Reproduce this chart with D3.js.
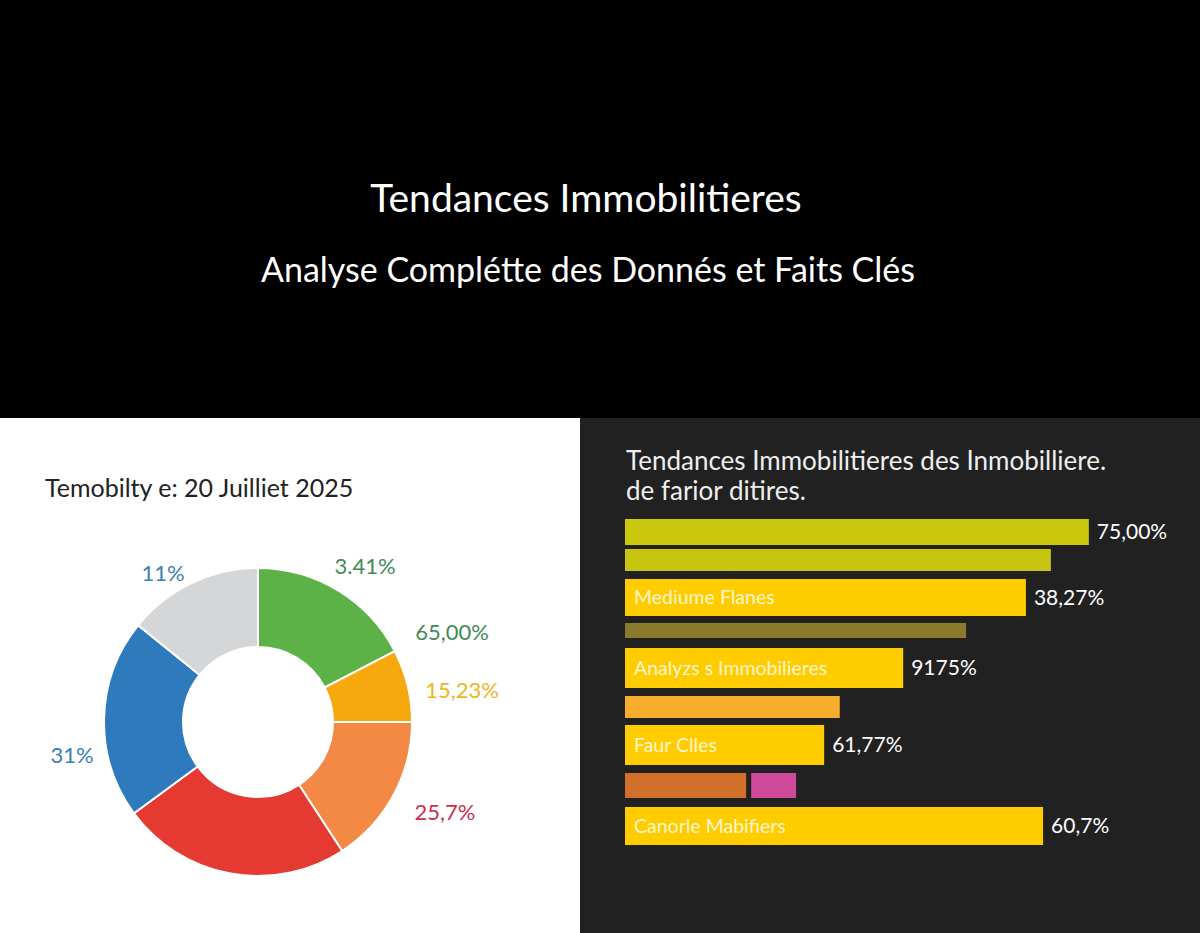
<!DOCTYPE html>
<html lang="fr">

<head>
    <meta charset="UTF-8">
    <title>Tendances Immobilitieres</title>
    <script src="https://d3js.org/d3.v7.min.js"></script>
    <style>
        body {
            margin: 0;
            padding: 0;
            background: #000;
        }

        svg {
            display: block;
            font-family: Lato, "Open Sans", sans-serif;
        }
    </style>
</head>

<body>
    <svg id="chart" width="1200" height="933"></svg>

    <script>
        // --- donut data (left panel)
        const donutCategories = ["Vert", "Jaune", "Orange", "Rouge", "Bleu", "Gris"];
        const donutValues = [17.4, 7.6, 15.8, 24.1, 20.9, 14.2];
        const donutColors = ["#5cb147", "#f6a80f", "#f38945", "#e53a31", "#2f7abd", "#d5d6d8"];

        const donutLabels = ["3.41%", "65,00%", "15,23%", "25,7%", "31%", "11%"];
        const donutLabelColors = ["#3f8a55", "#3f8a55", "#efb51c", "#c8304c", "#3a80b3", "#3a80b3"];

        // --- bar data (right panel)
        const barInner = ["", "", "Mediume Flanes", "", "Analyzs s Immobilieres", "", "Faur Clles", "", "Canorle Mabifiers"];
        const barValues = [[89.2], [81.9], [77.1], [65.6], [53.5], [41.3], [38.3], [23.3, 9.6], [80.4]];
        const barValueLabels = ["75,00%", "", "38,27%", "", "9175%", "", "61,77%", "", "60,7%"];
        const barColors = [["#c9c80e"], ["#c6c612"], ["#ffcc00"], ["#8a7a2c"], ["#ffcc00"], ["#f9ad2d"], ["#ffcc00"], ["#d0702a", "#cf489a"], ["#ffcc00"]];

        // bar thickness and spacing (style)
        const barThick = [26, 22, 37, 15, 40, 22, 40, 25, 38];
        const barGaps = [0, 4, 8, 7, 10, 8, 7, 8, 9];

        const svg = d3.select("#chart");
        const width = 1200;

        // top black header
        svg.append("rect").attr("width", width).attr("height", 418).attr("fill", "#000");
        svg.append("text")
            .attr("x", 586).attr("y", 212)
            .attr("text-anchor", "middle")
            .attr("fill", "#fff")
            .attr("font-size", 39)
            .text("Tendances Immobilitieres");
        svg.append("text")
            .attr("x", 588).attr("y", 282)
            .attr("text-anchor", "middle")
            .attr("fill", "#fff")
            .attr("font-size", 34)
            .text("Analyse Complétte des Donnés et Faits Clés");

        // left panel
        svg.append("rect").attr("x", 0).attr("y", 418).attr("width", 580).attr("height", 515).attr("fill", "#fff");
        svg.append("text")
            .attr("x", 45).attr("y", 497)
            .attr("fill", "#222")
            .attr("font-size", 25)
            .text("Temobilty e: 20 Juilliet 2025");

        const cx = 258, cy = 722;
        const outerR = 154, innerR = 75;
        const pie = d3.pie().sort(null).value(d => d)(donutValues);
        const arc = d3.arc().innerRadius(innerR).outerRadius(outerR);

        const donut = svg.append("g").attr("transform", `translate(${cx},${cy})`);
        donut.selectAll("path")
            .data(pie)
            .enter().append("path")
            .attr("d", arc)
            .attr("fill", (d, i) => donutColors[i])
            .attr("stroke", "#fff")
            .attr("stroke-width", 2);

        // labels placed around the ring
        const labelPos = [
            [365, 574], [452, 640], [462, 698], [445, 820], [72, 763], [163, 581]
        ];
        svg.append("g").selectAll("text")
            .data(donutLabels)
            .enter().append("text")
            .attr("x", (d, i) => labelPos[i][0])
            .attr("y", (d, i) => labelPos[i][1])
            .attr("text-anchor", "middle")
            .attr("fill", (d, i) => donutLabelColors[i])
            .attr("font-size", 22)
            .text(d => d);

        // right panel
        svg.append("rect").attr("x", 580).attr("y", 418).attr("width", 620).attr("height", 515).attr("fill", "#212121");
        svg.append("text")
            .attr("x", 626).attr("y", 470)
            .attr("fill", "#eee")
            .attr("font-size", 26)
            .text("Tendances Immobilitieres des Inmobilliere.");
        svg.append("text")
            .attr("x", 626).attr("y", 500)
            .attr("fill", "#eee")
            .attr("font-size", 26)
            .text("de farior ditires.");

        const x = d3.scaleLinear().domain([0, 100]).range([625, 1145]);
        const yTop = 519;
        const barY = barThick.map((h, i) => yTop + d3.sum(barThick.slice(0, i)) + d3.sum(barGaps.slice(0, i + 1)));

        const rows = svg.append("g").selectAll("g")
            .data(barValues)
            .enter().append("g")
            .attr("transform", (d, i) => `translate(0,${barY[i]})`);

        rows.each(function (vals, i) {
            const g = d3.select(this);
            let acc = 0;
            vals.forEach((v, j) => {
                const gapIn = j > 0 ? 5 : 0;
                g.append("rect")
                    .attr("x", x(acc) + gapIn)
                    .attr("y", 0)
                    .attr("width", x(acc + v) - x(acc) - gapIn)
                    .attr("height", barThick[i])
                    .attr("fill", barColors[i][j]);
                acc += v;
            });
            if (barInner[i]) {
                g.append("text")
                    .attr("x", 634)
                    .attr("y", barThick[i] / 2)
                    .attr("dy", "0.35em")
                    .attr("fill", "#fff6d0")
                    .attr("font-size", 19.5)
                    .text(barInner[i]);
            }
            if (barValueLabels[i]) {
                g.append("text")
                    .attr("x", x(acc) + 8)
                    .attr("y", barThick[i] / 2)
                    .attr("dy", "0.35em")
                    .attr("fill", "#fff")
                    .attr("font-size", 21)
                    .text(barValueLabels[i]);
            }
        });
    </script>
</body>

</html>
